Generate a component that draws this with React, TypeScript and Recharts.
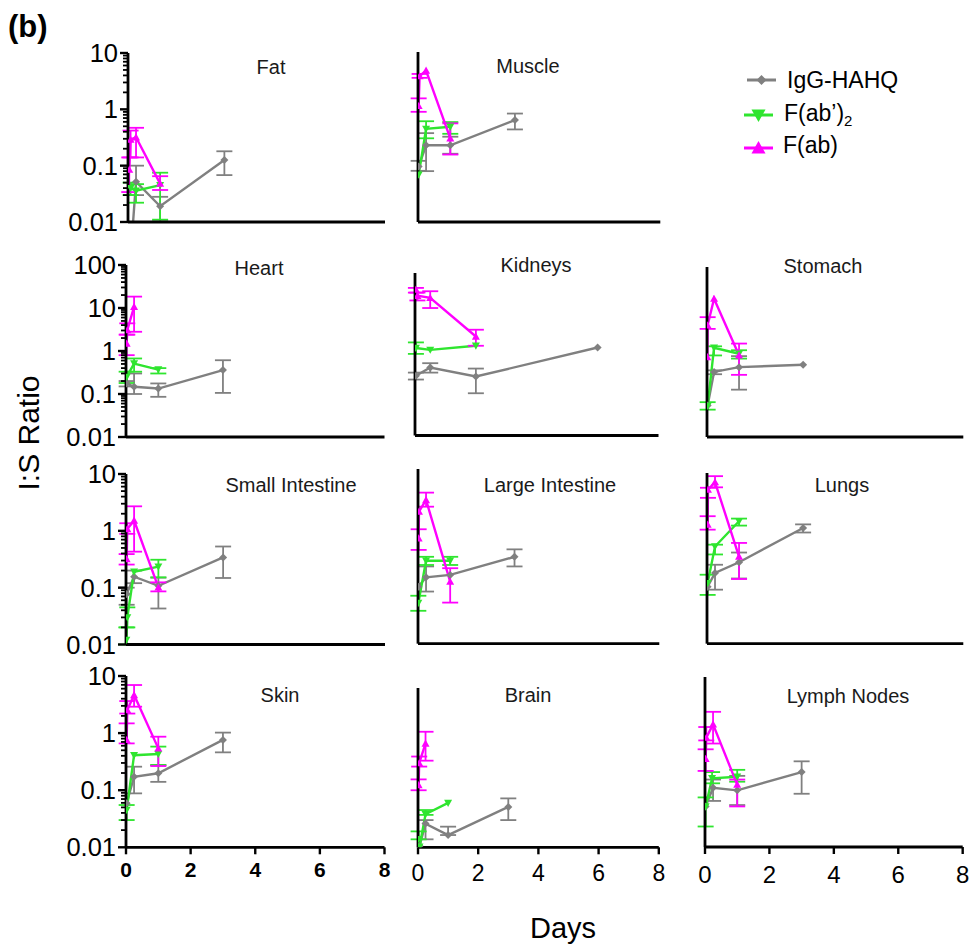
import React from "react";
import { LineChart, Line, XAxis, YAxis, ErrorBar } from "recharts";

// each point: [day, I:S ratio, lower bound, upper bound]
type Pt = number[];

const GRAY = "#808080";
const GREEN = "#2fe52f";
const MAGENTA = "#ff00ff";
const FONT = "'Liberation Sans', Arial, Helvetica, sans-serif";

const DAY_TICKS = [0, 2, 4, 6, 8];

const fatIgG: Pt[] = [[0.04, 0.0012], [0.25, 0.052, 0.03, 0.1], [1, 0.019, 0.0102, 0.028], [3, 0.126, 0.068, 0.18]];
const fatF2: Pt[] = [[0.08, 0.04, 0.03, 0.05], [0.25, 0.036, 0.022, 0.047], [1, 0.045, 0.011, 0.075]];
const fatFab: Pt[] = [[0.04, 0.085, 0.034, 0.14], [0.08, 0.29, 0.14, 0.42], [0.25, 0.32, 0.14, 0.47], [1, 0.048, 0.037, 0.065]];

const muscleIgG: Pt[] = [[0.02, 0.095, 0.08, 0.12], [0.25, 0.226, 0.079, 0.37], [1, 0.226, 0.16, 0.32], [3, 0.63, 0.43, 0.82]];
const muscleF2: Pt[] = [[0.02, 0.068], [0.25, 0.44, 0.3, 0.6], [1, 0.48, 0.36, 0.58]];
const muscleFab: Pt[] = [[0.02, 1.12, 0.88, 1.52], [0.05, 3.75, 3.5, 4.1], [0.25, 4.7], [1, 0.3, 0.155, 0.55]];

const heartIgG: Pt[] = [[0.02, 0.176, 0.15, 0.2], [0.25, 0.147, 0.1, 0.3], [1, 0.134, 0.086, 0.176], [3, 0.36, 0.106, 0.61]];
const heartF2: Pt[] = [[0.02, 0.25, 0.18, 0.33], [0.25, 0.51, 0.33, 0.67], [1, 0.37, 0.3, 0.4]];
const heartFab: Pt[] = [[0.02, 1.5, 0.8, 2.4], [0.04, 3.07, 2.4, 4.4], [0.25, 10.7, 2.8, 18.4]];

const kidneyIgG: Pt[] = [[0.03, 0.244, 0.2, 0.29], [0.5, 0.38, 0.29, 0.48], [2, 0.235, 0.096, 0.36], [6, 1.11]];
const kidneyF2: Pt[] = [[0.03, 1.08, 0.79, 1.46], [0.5, 0.98], [2, 1.22]];
const kidneyFab: Pt[] = [[0.03, 24.6, 21, 27], [0.08, 17.8, 13.8, 21], [0.5, 15.8, 9.2, 22.6], [2, 2, 1.22, 2.88]];

const stomachIgG: Pt[] = [[0.02, 0.055], [0.22, 0.34, 0.3, 0.37], [1, 0.44, 0.13, 0.8], [3, 0.5]];
const stomachF2: Pt[] = [[0.02, 0.054, 0.044, 0.066], [0.22, 1.26, 0.83, 1.36], [1, 0.91, 0.7, 1.1]];
const stomachFab: Pt[] = [[0.01, 0.76], [0.02, 4.25, 3.5, 6.6], [0.22, 18], [1, 0.84, 0.29, 1.58]];

const siIgG: Pt[] = [[0.02, 0.077, 0.05, 0.1], [0.25, 0.156, 0.12, 0.2], [1, 0.108, 0.043, 0.15], [3, 0.34, 0.148, 0.53]];
const siF2: Pt[] = [[0.01, 0.012, 0.01, 0.02], [0.04, 0.03, 0.02, 0.045], [0.25, 0.19], [1, 0.235, 0.152, 0.31]];
const siFab: Pt[] = [[0.02, 0.32, 0.255, 0.39], [0.04, 1.08, 0.885, 1.36], [0.25, 1.52, 0.43, 2.7], [1, 0.101, 0.086, 0.124]];

const liIgG: Pt[] = [[0.01, 0.101], [0.25, 0.148, 0.083, 0.23], [1, 0.163], [3, 0.34, 0.23, 0.46]];
const liF2: Pt[] = [[0.01, 0.052, 0.038, 0.07], [0.25, 0.29, 0.244, 0.34], [1, 0.29, 0.244, 0.34]];
const liFab: Pt[] = [[0.02, 0.72, 0.45, 1.04], [0.03, 2.13], [0.25, 3.42, 2.6, 4.6], [1, 0.124, 0.053, 0.214]];

const lungIgG: Pt[] = [[0.02, 0.1], [0.25, 0.175, 0.089, 0.244], [1, 0.27, 0.14, 0.4], [3, 1.08, 0.9, 1.25]];
const lungF2: Pt[] = [[0.02, 0.116, 0.072, 0.163], [0.25, 0.51, 0.37, 0.55], [1, 1.42, 1.19, 1.58]];
const lungFab: Pt[] = [[0.02, 1.24, 1.01, 1.74], [0.03, 5.1, 3.66, 5.5], [0.25, 6.9, 5.6, 8.8], [1, 0.34, 0.137, 0.59]];

const skinIgG: Pt[] = [[0.02, 0.059], [0.25, 0.172, 0.088, 0.258], [1, 0.198, 0.14, 0.276], [3, 0.76, 0.46, 1.02]];
const skinF2: Pt[] = [[0.02, 0.045, 0.03, 0.055], [0.25, 0.41], [1, 0.43, 0.276, 0.58]];
const skinFab: Pt[] = [[0.02, 0.76, 0.66, 1.48], [0.04, 2.54, 2.2, 3.64], [0.25, 4.65, 2.9, 6.95], [1, 0.54, 0.265, 0.865]];

const brainIgG: Pt[] = [[0.05, 0.0105], [0.25, 0.026, 0.0138, 0.03], [1, 0.0164, 0.0164, 0.023], [3, 0.051, 0.03, 0.072]];
const brainF2: Pt[] = [[0.02, 0.0138, 0.0138, 0.019], [0.05, 0.0102], [0.25, 0.038, 0.037, 0.045], [1, 0.06]];
const brainFab: Pt[] = [[0.02, 0.123, 0.1, 0.155], [0.04, 0.3, 0.26, 0.39], [0.25, 0.66, 0.33, 1.06]];

const lnIgG: Pt[] = [[0.02, 0.052], [0.25, 0.111, 0.065, 0.155], [1, 0.1, 0.055, 0.18], [3, 0.21, 0.087, 0.325]];
const lnF2: Pt[] = [[0.02, 0.052, 0.023, 0.075], [0.22, 0.163, 0.133, 0.21], [1, 0.174, 0.142, 0.23]];
const lnFab: Pt[] = [[0.02, 0.36, 0.22, 0.53], [0.04, 0.85, 0.76, 1.31], [0.25, 1.46, 0.67, 2.43], [1, 0.126, 0.052, 0.155]];

const panels = [
  { title: "Fat", igg: fatIgG, f2: fatF2, fab: fatFab, yMax: 10, xMax: 8 },
  { title: "Muscle", igg: muscleIgG, f2: muscleF2, fab: muscleFab, yMax: 10, xMax: 7.5 },
  { title: "Heart", igg: heartIgG, f2: heartF2, fab: heartFab, yMax: 100, xMax: 8 },
  { title: "Kidneys", igg: kidneyIgG, f2: kidneyF2, fab: kidneyFab, yMax: 60, xMax: 8 },
  { title: "Stomach", igg: stomachIgG, f2: stomachF2, fab: stomachFab, yMax: 100, xMax: 8 },
  { title: "Small Intestine", igg: siIgG, f2: siF2, fab: siFab, yMax: 10, xMax: 8 },
  { title: "Large Intestine", igg: liIgG, f2: liF2, fab: liFab, yMax: 12, xMax: 7.5 },
  { title: "Lungs", igg: lungIgG, f2: lungF2, fab: lungFab, yMax: 10, xMax: 8 },
  { title: "Skin", igg: skinIgG, f2: skinF2, fab: skinFab, yMax: 10, xMax: 8 },
  { title: "Brain", igg: brainIgG, f2: brainF2, fab: brainFab, yMax: 6.2, xMax: 8 },
  { title: "Lymph Nodes", igg: lnIgG, f2: lnF2, fab: lnFab, yMax: 10, xMax: 8 },
];

// plot box [left, top, right, bottom], grid column, bottom row flag, title anchor
const frames = [
  { box: [127.5, 53, 384.5, 222], col: 0, last: false, tx: 271, ty: 74 },
  { box: [417.7, 52, 660, 222], col: 1, last: false, tx: 528, ty: 73 },
  { box: [126, 265, 384.5, 437], col: 0, last: false, tx: 259, ty: 275 },
  { box: [415, 273, 658.5, 435.5], col: 1, last: false, tx: 536, ty: 272 },
  { box: [706.7, 266.7, 963, 436.7], col: 2, last: false, tx: 823, ty: 273 },
  { box: [125.5, 473.5, 384.5, 644], col: 0, last: false, tx: 291, ty: 492 },
  { box: [417.7, 469.3, 659, 644], col: 1, last: false, tx: 550, ty: 492 },
  { box: [706.7, 473.3, 963, 644], col: 2, last: false, tx: 842, ty: 492 },
  { box: [125.5, 676, 384, 847.3], col: 0, last: true, tx: 280, ty: 702 },
  { box: [417.7, 688, 658.5, 847.3], col: 1, last: true, tx: 528, ty: 702 },
  { box: [705.3, 676.7, 963, 846.7], col: 2, last: true, tx: 848, ty: 703 },
];

const SERIES = [
  { key: "igg", color: GRAY, shape: "diamond" },
  { key: "f2", color: GREEN, shape: "down" },
  { key: "fab", color: MAGENTA, shape: "up" },
];

// bottom row day labels differ by column
const DAY_LABEL = [
  { size: 21, weight: "bold", dy: 30 },
  { size: 23, weight: "normal", dy: 34 },
  { size: 24, weight: "normal", dy: 36 },
];

const toRows = (pts: Pt[]) =>
  pts.map(([x, y, lo, hi]) => ({ x, y, e: lo == null ? undefined : [y - lo, hi - y] }));

function logTicks(min: number, max: number) {
  const out: number[] = [];
  for (let k = Math.round(Math.log10(min)); k <= Math.ceil(Math.log10(max)); k++) {
    for (let m = 1; m <= 9; m++) {
      const v = Number((m * 10 ** k).toPrecision(3));
      if (v >= min && v <= max * 1.0001) out.push(v);
    }
  }
  return out;
}

function Marker({ cx, cy, shape, color, s }: any) {
  if (cx == null || cy == null) return <g />;
  let pts: string;
  if (shape === "diamond") pts = `${cx},${cy - s} ${cx + s},${cy} ${cx},${cy + s} ${cx - s},${cy}`;
  else if (shape === "down") pts = `${cx - s},${cy - s * 0.8} ${cx + s},${cy - s * 0.8} ${cx},${cy + s}`;
  else pts = `${cx - s},${cy + s * 0.8} ${cx + s},${cy + s * 0.8} ${cx},${cy - s}`;
  return <polygon points={pts} fill={color} stroke="none" />;
}

function LogTick({ x, y, payload }: any) {
  const v = payload.value;
  const k = Math.log10(v);
  const major = Math.abs(k - Math.round(k)) < 1e-6;
  return (
    <g>
      <line x1={x} x2={x - (major ? 8 : 5)} y1={y} y2={y} stroke="#000" strokeWidth={major ? 2.4 : 1.8} />
      {major && (
        <text x={x - 10} y={y + 9} textAnchor="end" fontSize={25.5} fontFamily={FONT} fill="#000">
          {String(v)}
        </text>
      )}
    </g>
  );
}

function DayTick({ x, y, payload, col }: any) {
  const st = DAY_LABEL[col];
  return (
    <g>
      <line x1={x} x2={x} y1={y} y2={y + 7} stroke="#000" strokeWidth={2.4} />
      <text x={x} y={y + st.dy} textAnchor="middle" fontSize={st.size} fontWeight={st.weight} fontFamily={FONT} fill="#000">
        {payload.value}
      </text>
    </g>
  );
}

function Panel({ p, f }: any) {
  const [l, t, r, b] = f.box;
  const padL = f.col === 0 ? 80 : 10;
  const padT = 22;
  const padR = 10;
  const padB = f.last ? 46 : 22;
  const w = padL + (r - l) + padR;
  const h = padT + (b - t) + padB;
  const axisLine = { stroke: "#000", strokeWidth: 2.8 };
  return (
    <div style={{ position: "absolute", left: l - padL, top: t - padT }}>
      <LineChart width={w} height={h} margin={{ top: padT, right: padR, bottom: 0, left: 0 }}>
        <XAxis
          type="number"
          dataKey="x"
          domain={[0, p.xMax]}
          allowDataOverflow
          height={padB}
          ticks={DAY_TICKS}
          interval={0}
          tickSize={0}
          tickMargin={0}
          axisLine={axisLine}
          tickLine={false}
          tick={f.last ? (tp: any) => <DayTick {...tp} col={f.col} /> : false}
        />
        <YAxis
          type="number"
          scale="log"
          domain={[0.01, p.yMax]}
          allowDataOverflow
          width={padL}
          ticks={f.col === 0 ? logTicks(0.01, p.yMax) : undefined}
          interval={0}
          tickSize={0}
          tickMargin={0}
          axisLine={axisLine}
          tickLine={false}
          tick={f.col === 0 ? (tp: any) => <LogTick {...tp} /> : false}
        />
        {SERIES.map((s) => (
          <Line
            key={s.key}
            data={toRows(p[s.key])}
            dataKey="y"
            stroke={s.color}
            strokeWidth={2.4}
            isAnimationActive={false}
            activeDot={false}
            dot={(d: any) => <Marker key={`m${d.index}`} cx={d.cx} cy={d.cy} shape={s.shape} color={s.color} s={4} />}
          >
            <ErrorBar dataKey="e" width={8} strokeWidth={1.8} stroke={s.color} direction="y" />
          </Line>
        ))}
      </LineChart>
    </div>
  );
}

const legendItems = [
  { label: "IgG-HAHQ", sub: "", color: GRAY, shape: "diamond", x1: 747, x2: 776, y: 80, tx: 787, ty: 88 },
  { label: "F(ab\u2019)", sub: "2", color: GREEN, shape: "down", x1: 744, x2: 773, y: 115, tx: 784, ty: 120.5 },
  { label: "F(ab)", sub: "", color: MAGENTA, shape: "up", x1: 744, x2: 773, y: 148, tx: 783, ty: 153 },
];

export default function App() {
  return (
    <div style={{ position: "absolute", left: 0, top: 0, width: 973, height: 947, background: "#fff" }}>
      {panels.map((p, i) => (
        <Panel key={p.title} p={p} f={frames[i]} />
      ))}
      <svg width={973} height={947} style={{ position: "absolute", left: 0, top: 0, pointerEvents: "none" }} fontFamily={FONT}>
        <text x={8} y={37} fontSize={31} fontWeight="bold" fill="#000">(b)</text>
        <text transform="translate(38.5 433) rotate(-90)" textAnchor="middle" fontSize={30} fill="#000">I:S Ratio</text>
        <text x={563} y={938} textAnchor="middle" fontSize={29} fill="#000">Days</text>
        {panels.map((p, i) => (
          <text key={p.title} x={frames[i].tx} y={frames[i].ty} textAnchor="middle" fontSize={20} fill="#1a1a1a">
            {p.title}
          </text>
        ))}
        {legendItems.map((it) => (
          <g key={it.label}>
            <line x1={it.x1} x2={it.x2} y1={it.y} y2={it.y} stroke={it.color} strokeWidth={3} />
            <Marker cx={(it.x1 + it.x2) / 2} cy={it.y} shape={it.shape} color={it.color} s={it.shape === "diamond" ? 5 : 7} />
            <text x={it.tx} y={it.ty} fontSize={23} fill="#000">
              {it.label}
              {it.sub && <tspan fontSize={15} dy={5}>{it.sub}</tspan>}
            </text>
          </g>
        ))}
      </svg>
    </div>
  );
}
